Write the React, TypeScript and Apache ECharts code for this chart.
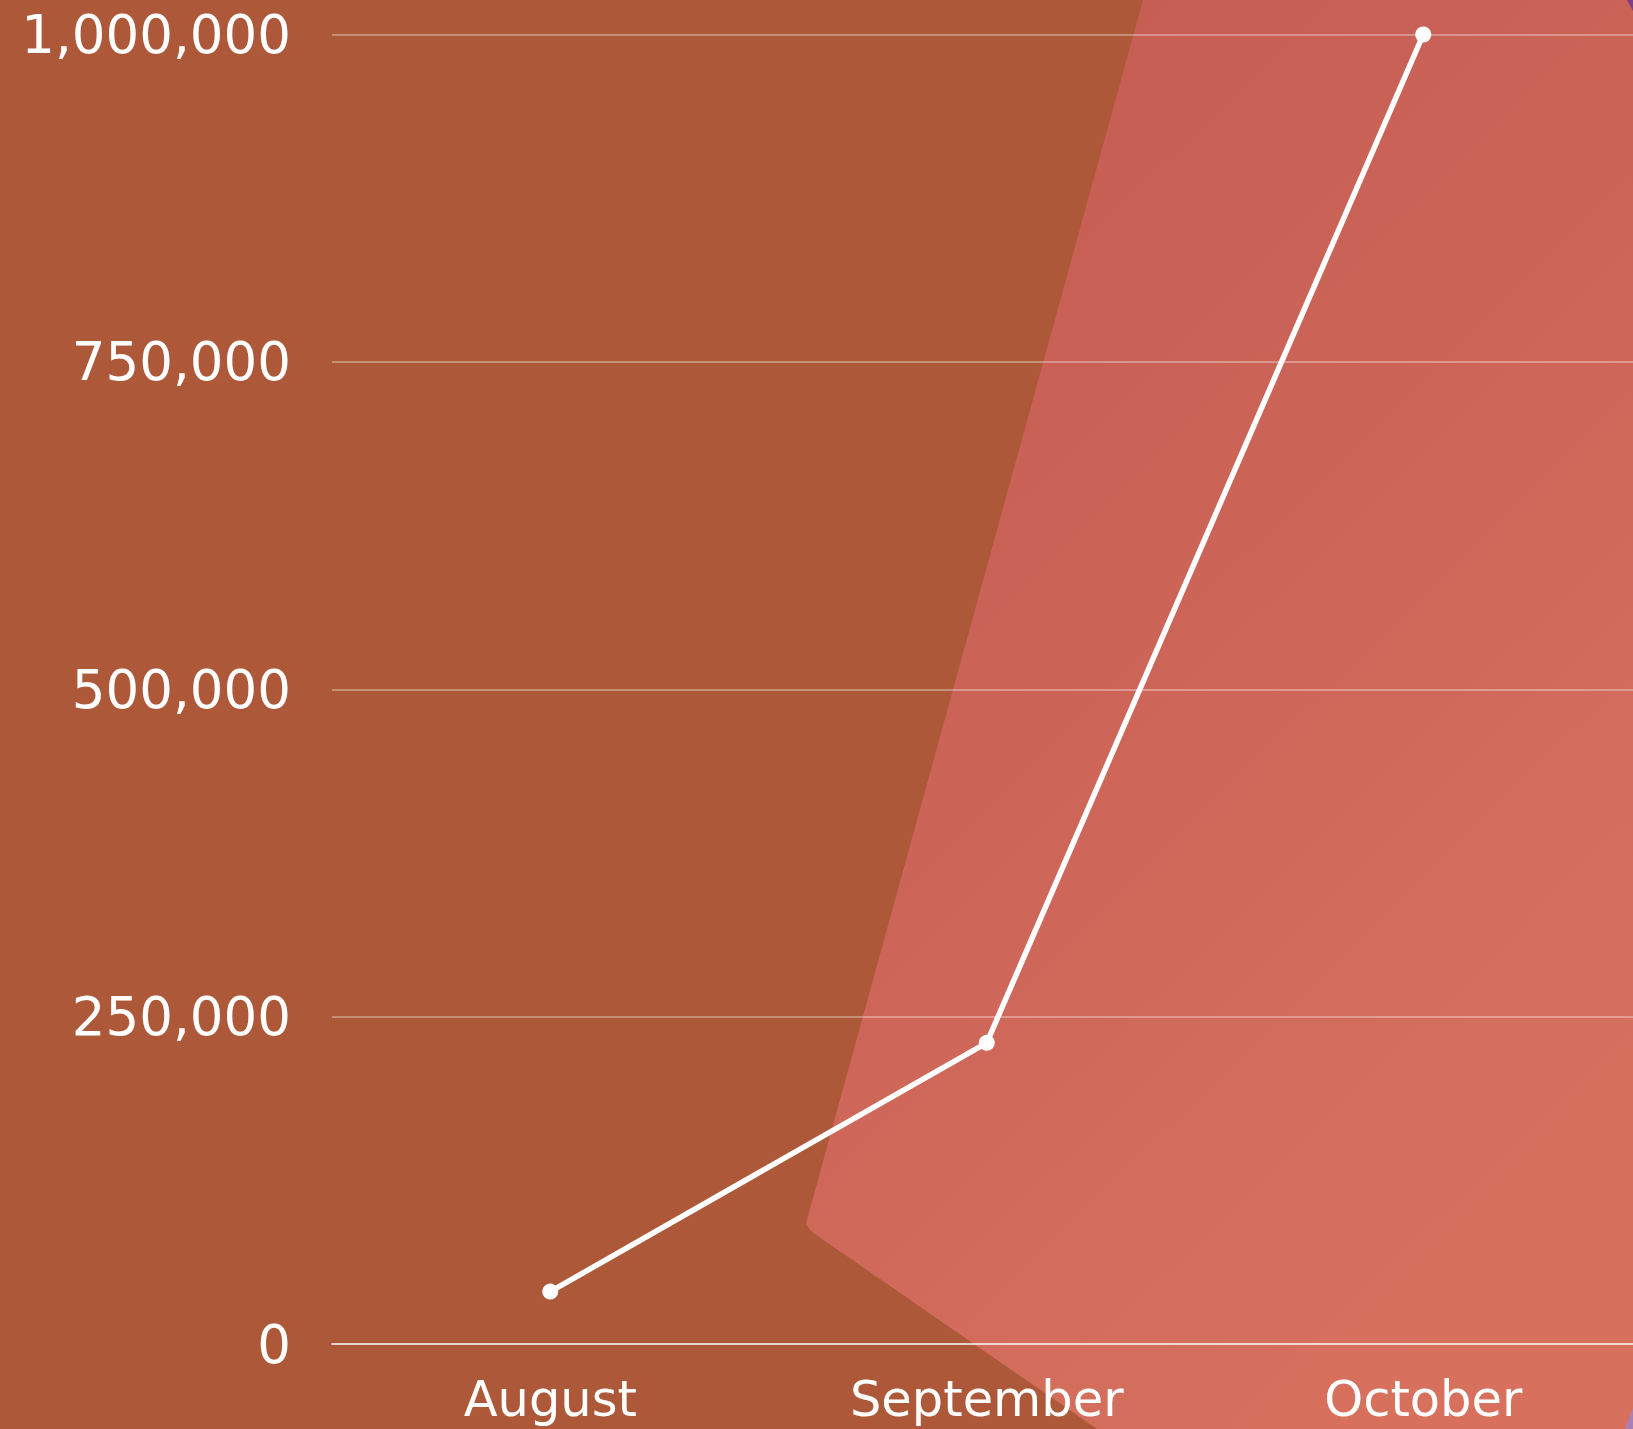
import React, { useEffect, useRef } from "react";
import * as echarts from "echarts";

const categories = ["August", "September", "October"];
const values = [40000, 230000, 1000000];
const yTicks = { min: 0, max: 1000000, interval: 250000 };

const fmt = (v: number) => String(Math.round(v)).replace(/\B(?=(\d{3})+(?!\d))/g, ",");

export default function App() {
  const ref = useRef<HTMLDivElement>(null);
  useEffect(() => {
    const el = ref.current!;
    const chart = echarts.init(el, undefined, { renderer: "svg" });
    const font = "DejaVu Sans";
    chart.setOption({
      animation: false,
      backgroundColor: "#AC5839",
      graphic: [
        {
          type: "polygon",
          z: -10,
          silent: true,
          shape: {
            points: [
              [1143, 0],
              [1680, 0],
              [1680, 1429],
              [1097, 1429],
              [812, 1232],
              [806, 1224],
              [808, 1216],
            ],
          },
          style: {
            fill: new echarts.graphic.LinearGradient(0, 0, 0.6, 1, [
              { offset: 0, color: "#C35A52" },
              { offset: 0.5, color: "#CC6558" },
              { offset: 1, color: "#D7715E" },
            ]),
          },
        },
        {
          type: "polygon",
          z: -9,
          silent: true,
          shape: { points: [[1627, 0], [1680, 0], [1680, 30], [1633, 11]] },
          style: { fill: "#7A3F86" },
        },
        {
          type: "polygon",
          z: -9,
          silent: true,
          shape: { points: [[1633, 1408], [1680, 1380], [1680, 1429], [1625, 1429]] },
          style: { fill: "#A880B4" },
        },
      ],
      grid: { left: 332, top: 34.5, width: 1309.5, height: 1309.5, containLabel: false },
      xAxis: {
        type: "category",
        data: categories,
        boundaryGap: true,
        axisTick: { show: false },
        axisLine: { show: true, lineStyle: { color: "rgba(255,255,255,0.6)", width: 2 } },
        axisLabel: { color: "#FFFFFF", fontFamily: font, fontSize: 49.5, margin: 30 },
        splitLine: { show: false },
      },
      yAxis: {
        type: "value",
        min: yTicks.min,
        max: yTicks.max,
        interval: yTicks.interval,
        axisLine: { show: false },
        axisTick: { show: false },
        axisLabel: {
          color: "#FFFFFF",
          fontFamily: font,
          fontSize: 53,
          margin: 41,
          formatter: (v: number) => fmt(v),
        },
        splitLine: { show: true, lineStyle: { color: "rgba(255,255,255,0.32)", width: 2 } },
      },
      series: [
        {
          type: "line",
          data: values,
          symbol: "circle",
          symbolSize: 16,
          lineStyle: { color: "#FFFFFF", width: 5.5 },
          itemStyle: { color: "#FFFFFF" },
          z: 5,
        },
      ],
    });
    return () => chart.dispose();
  }, []);
  return (
    <div style={{ position: "absolute", left: 0, top: 0, width: 1633, height: 1429, overflow: "hidden" }}>
      <div ref={ref} style={{ width: 1680, height: 1429 }} />
    </div>
  );
}
